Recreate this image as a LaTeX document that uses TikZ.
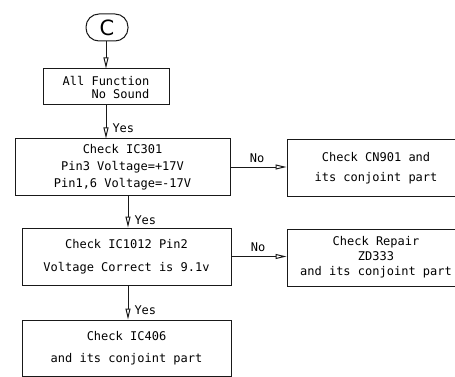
\documentclass[tikz,border=0pt]{standalone}
\usepackage{fontspec}
\setmonofont{DejaVu Sans Mono}
\newfontfamily\ovalfont{DejaVu Sans}
\usetikzlibrary{arrows.meta}
\begin{document}
\begin{tikzpicture}[x=1pt,y=-1pt, line width=1pt, draw=black!90,
  box/.style={draw=black!90, rectangle, inner sep=0pt, align=center, text=black},
  arr/.style={draw=black!90, -{Triangle[open,length=11pt,width=5pt]}},
  lbl/.style={inner sep=0pt, text=black, font=\ttfamily\fontsize{12}{14}\selectfont}]
\useasboundingbox (0,0) rectangle (455,377);
\clip (0,0) rectangle (455,377);
% start terminal
\node[draw=black!90, rounded corners=13pt, minimum width=42pt, minimum height=27pt, inner sep=0pt,
      font=\ovalfont\fontsize{21}{21}\selectfont] (start) at (107,27.5) {C};
% boxes
\node[box, minimum width=126pt, minimum height=36pt, align=right,
      font=\ttfamily\fontsize{12}{13}\selectfont] (b1) at (106,87) {All Function\\No Sound};
\node[box, minimum width=215pt, minimum height=56pt,
      font=\ttfamily\fontsize{12}{17}\selectfont] (b2) at (122.5,167) {Check IC301\\Pin3 Voltage=+17V\\Pin1,6 Voltage=-17V};
\node[box, minimum width=178pt, minimum height=56pt,
      font=\ttfamily\fontsize{12}{20}\selectfont] (r1) at (376,168) {Check CN901 and\\its conjoint part};
\node[box, minimum width=209pt, minimum height=57pt,
      font=\ttfamily\fontsize{12}{23}\selectfont] (b3) at (126.5,256.5) {Check IC1012 Pin2\\Voltage Correct is 9.1v};
\node[box, minimum width=178pt, minimum height=57pt,
      font=\ttfamily\fontsize{12}{15}\selectfont] (r2) at (376,257.5) {Check Repair\\ZD333\\and its conjoint part};
\node[box, minimum width=209pt, minimum height=56pt,
      font=\ttfamily\fontsize{12}{22}\selectfont] (b4) at (126.5,348) {Check IC406\\and its conjoint part};
% vertical connectors
\coordinate (v1) at (106,0);
\coordinate (v2) at (128,0);
\draw[arr] (start.south -| v1) -- (b1.north -| v1);
\draw[arr] (b1.south -| v1) -- (b2.north -| v1);
\draw[arr] (b2.south -| v2) -- (b3.north -| v2);
\draw[arr] (b3.south -| v2) -- (b4.north -| v2);
% horizontal connectors
\draw[arr] (b2.east) -- (r1.west |- b2.east);
\draw[arr] (b3.east) -- (r2.west |- b3.east);
% labels
\node[lbl, anchor=west] (y1) at (112,128) {Yes};
\node[lbl, anchor=west] (y2) at (134,220) {Yes};
\node[lbl, anchor=west] (y3) at (134,310) {Yes};
\node[lbl] (n1) at (257,158) {No};
\node[lbl] (n2) at (258,247) {No};
\end{tikzpicture}
\end{document}
